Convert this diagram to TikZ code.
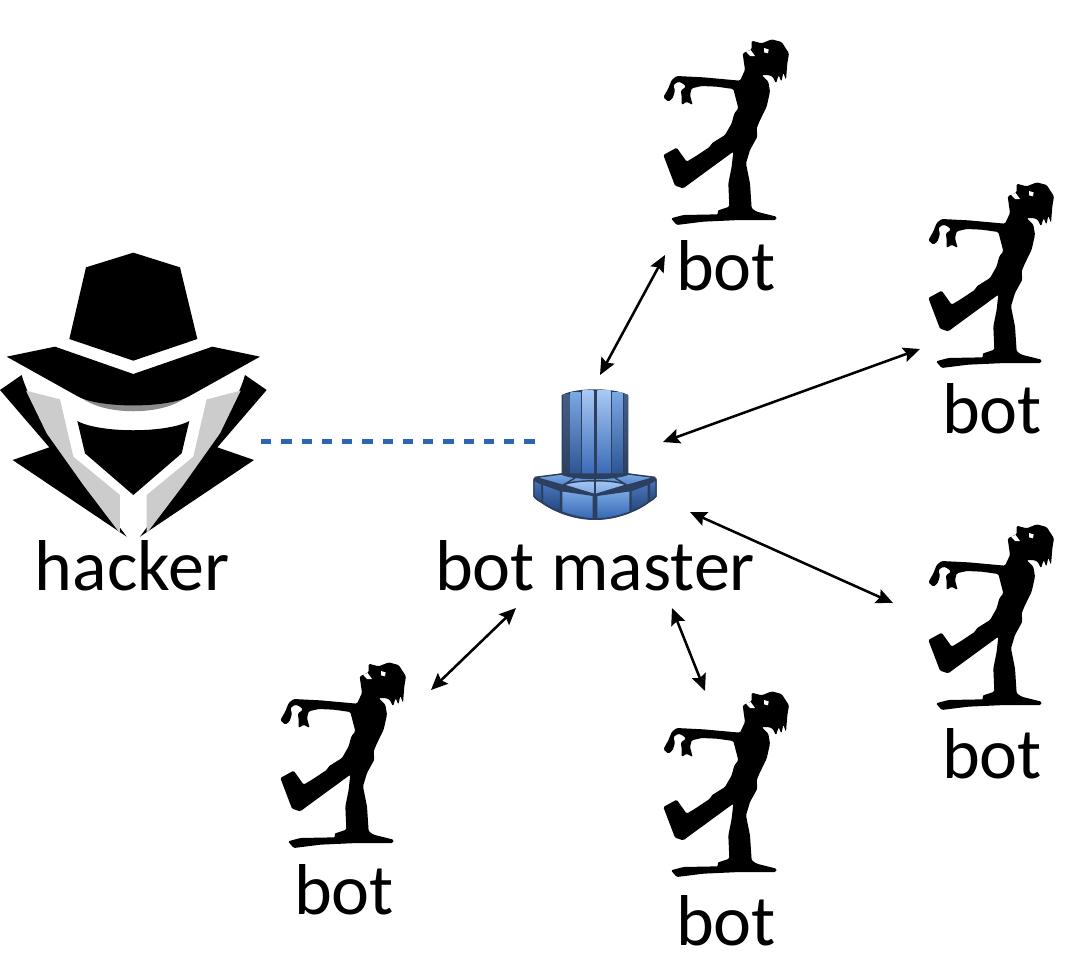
\documentclass[tikz,border=0pt]{standalone}
\usepackage{fontspec}
\setmainfont{Carlito}
\usetikzlibrary{arrows.meta}
\definecolor{dashblue}{HTML}{2E64B4}
\definecolor{steeldark}{HTML}{2C3F5E}
\definecolor{steelpale}{HTML}{A8C8F4}
\definecolor{steelmid}{HTML}{7AA8E4}
\definecolor{steeldeep}{HTML}{3566B4}
\tikzset{
	label/.style={font=\fontsize{54}{54}\selectfont,anchor=base,inner sep=0pt},
	link/.style={{Stealth[length=12.5pt,width=11pt,inset=2pt]}-{Stealth[length=12.5pt,width=11pt,inset=2pt]},line width=1.9pt},
	dashlink/.style={line width=3.75pt,dash pattern=on 7.7pt off 7.5pt},
	panel/.style={draw=steeldark,line width=1.1pt,line join=round},
	zombie/.pic={
		\begin{scope}[scale=1/3]
			\fill[black,rounded corners=1pt] (335,62) -- (365,70) -- (395,58) -- (425,66) -- (447,100) -- (442,130) -- (438,180) -- (430,158) -- (424,185) -- (416,165) -- (408,190) -- (398,170) -- (385,165) -- (365,165) -- (385,185) -- (390,215) -- (380,260) -- (358,305) -- (350,325) -- (352,350) -- (330,390) -- (318,430) -- (330,490) -- (335,565) -- (350,575) -- (410,590) -- (408,600) -- (300,600) -- (190,605) -- (110,615) -- (93,595) -- (130,585) -- (235,583) -- (232,572) -- (268,560) -- (265,490) -- (275,440) -- (280,395) -- (150,490) -- (130,505) -- (105,497) -- (70,405) -- (110,383) -- (140,425) -- (165,410) -- (210,380) -- (215,370) -- (255,345) -- (275,310) -- (283,280) -- (295,265) -- (280,207) -- (230,200) -- (185,198) -- (155,205) -- (150,225) -- (158,255) -- (140,245) -- (125,255) -- (125,228) -- (122,212) -- (138,200) -- (128,190) -- (115,185) -- (100,195) -- (105,212) -- (98,235) -- (85,245) -- (70,232) -- (85,205) -- (95,180) -- (110,168) -- (190,172) -- (300,182) -- (315,150) -- (308,100) -- (335,88) -- cycle;
			\fill[white] (372,84) -- (386,88) -- (384,100) -- (372,97) -- cycle;
			\fill[white] (318,95) -- (332,90) -- (345,108) -- (330,108) -- cycle;
		\end{scope}
	}
}
\begin{document}
\begin{tikzpicture}[x=0.75pt,y=-0.75pt]
	\useasboundingbox (0,0) rectangle (1072,976);
	% hacker
	\begin{scope}[shift={(0,240)},scale=1/3]
		\fill[black] (400,38) -- (540,82) -- (592,297) -- (400,362) -- (208,297) -- (258,82) -- cycle;
		\fill[black!45] (235,465) .. controls (300,530) and (500,530) .. (565,465) -- cycle;
		\fill[black] (20,350) -- (165,320) -- (400,402) -- (637,320) -- (780,350) -- (565,470) .. controls (500,505) and (300,505) .. (235,470) -- cycle;
		\fill[black] (232,543) .. controls (300,580) and (500,580) .. (568,543) -- (545,640) -- (400,765) -- (255,640) -- cycle;
		\fill[black] (0,450) -- (65,405) .. controls (100,530) and (240,700) .. (380,890) -- (38,660) -- (148,622) -- cycle;
		\fill[black] (800,450) -- (735,405) .. controls (700,530) and (560,700) .. (420,890) -- (762,660) -- (652,622) -- cycle;
		\fill[black!20] (78,452) -- (180,478) -- (220,650) -- (360,765) -- (360,880) -- (250,735) -- (140,580) -- cycle;
		\fill[black!20] (722,452) -- (620,478) -- (580,650) -- (440,765) -- (440,880) -- (550,735) -- (660,580) -- cycle;
	\end{scope}
	% bot master
	\begin{scope}[shift={(510,370)},scale=1/3]
		\fill[steeldark] (155,75) .. controls (200,52) and (310,52) .. (355,75) -- (355,310) .. controls (320,330) and (190,330) .. (155,310) -- cycle;
		\shade[top color=steeldark!70!steelmid,bottom color=steeldark] (160,72) rectangle (178,312);
		\shade[top color=steelmid,bottom color=steeldeep!80!black] (182,66) rectangle (212,318);
		\shade[top color=steelpale,bottom color=steeldeep] (218,62) rectangle (250,322);
		\shade[top color=steelpale,bottom color=steeldeep] (262,62) rectangle (302,322);
		\shade[top color=steelmid,bottom color=steeldeep!80!black] (306,66) rectangle (338,318);
		\shade[top color=steeldark!70!steelmid,bottom color=steeldark] (342,72) rectangle (352,312);
		% base
		\fill[steeldark] (70,325) -- (155,310) -- (355,310) -- (440,325) -- (440,380) .. controls (390,425) and (320,450) .. (255,450) .. controls (190,450) and (120,425) .. (70,380) -- cycle;
		\shade[panel,top color=steelmid,bottom color=steeldeep] (75,322) -- (155,312) .. controls (190,330) and (320,330) .. (355,312) -- (435,322) -- (255,374) -- cycle;
		\shade[panel,top color=steelpale,bottom color=steelmid] (160,345) .. controls (190,328) and (320,328) .. (350,345) -- (255,374) -- cycle;
		\draw[panel] (255,328) -- (255,374);
		\draw[panel] (195,324) -- (160,345);
		\draw[panel] (315,324) -- (350,345);
		\shade[panel,top color=steeldeep!90!white,bottom color=steeldeep!70!black] (72,330) -- (95,342) -- (98,398) .. controls (85,392) and (75,385) .. (72,378) -- cycle;
		\shade[panel,top color=steeldeep!90!white,bottom color=steeldeep!70!black] (97,342) -- (152,362) -- (152,424) .. controls (130,418) and (112,408) .. (98,398) -- cycle;
		\shade[panel,top color=steelmid,bottom color=steeldeep] (155,362) -- (250,376) -- (250,447) .. controls (215,445) and (180,436) .. (155,426) -- cycle;
		\shade[panel,top color=steelmid,bottom color=steeldeep] (260,376) -- (360,362) -- (360,426) .. controls (330,438) and (295,446) .. (260,447) -- cycle;
		\shade[panel,top color=steeldeep!90!white,bottom color=steeldeep!70!black] (363,362) -- (415,342) -- (415,396) .. controls (400,408) and (380,418) .. (363,424) -- cycle;
		\shade[panel,top color=steeldeep!90!white,bottom color=steeldeep!70!black] (418,340) -- (438,330) -- (438,378) .. controls (432,386) and (425,392) .. (418,394) -- cycle;
	\end{scope}
	% bots
	\pic at (640,20) {zombie};
	\pic at (905,163) {zombie};
	\pic at (905,505) {zombie};
	\pic at (257,643) {zombie};
	\pic at (640,672) {zombie};
	% labels
	\node[label] (hackerlabel) at (132,590) {hacker};
	\node[label] (masterlabel) at (595,590) {bot master};
	\node[label] (toplabel) at (726,290) {bot};
	\node[label] (upperlabel) at (992,433) {bot};
	\node[label] (lowerlabel) at (992,778) {bot};
	\node[label] (leftlabel) at (344,914) {bot};
	\node[label] (downlabel) at (726,945) {bot};
	% ends of the links
	\coordinate (hackerend) at (261,441);
	\coordinate (masterwest) at (535,441);
	\coordinate (masternorth) at (600,375);
	\coordinate (mastereast) at (663,442);
	\coordinate (mastersoutheast) at (690,512);
	\coordinate (mastersouth) at (672,608);
	\coordinate (mastersouthwest) at (516,608);
	\coordinate (topbot) at (665,255);
	\coordinate (upperbot) at (920,349);
	\coordinate (lowerbot) at (893,603);
	\coordinate (downbot) at (705,691);
	\coordinate (leftbot) at (431,690);
	% links
	\draw[dashlink,black!35,yshift=-2.5pt,opacity=.5] (hackerend) -- (masterwest);
	\draw[dashlink,dashblue] (hackerend) -- (masterwest);
	\draw[link] (masternorth) -- (topbot);
	\draw[link] (mastereast) -- (upperbot);
	\draw[link] (mastersoutheast) -- (lowerbot);
	\draw[link] (mastersouth) -- (downbot);
	\draw[link] (mastersouthwest) -- (leftbot);
\end{tikzpicture}
\end{document}
